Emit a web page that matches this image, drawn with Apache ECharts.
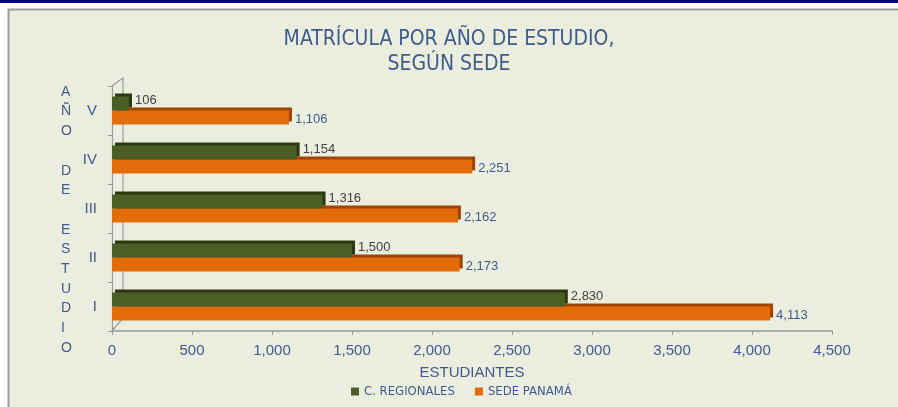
<!DOCTYPE html>
<html>
<head>
<meta charset="utf-8">
<script src="https://cdn.jsdelivr.net/npm/echarts@6/dist/echarts.min.js"></script>
<style>
  html, body { margin: 0; padding: 0; background: #fff; }
  #chart { width: 898px; height: 407px; }
</style>
</head>
<body>
<div id="chart"></div>
<script>
// datos
const years = ['I', 'II', 'III', 'IV', 'V'];
const regionales = [2830, 1500, 1316, 1154, 106];
const sedePanama = [4113, 2173, 2162, 2251, 1106];
const xTicks = [0, 500, 1000, 1500, 2000, 2500, 3000, 3500, 4000, 4500];

const chart = echarts.init(document.getElementById('chart'));

const fmt = v => Number(v).toLocaleString('en-US');
const blueText = '#3f5a8e';
const narrow = '"Liberation Sans Narrow", "DejaVu Sans Condensed", sans-serif';
const sans = '"Liberation Sans", Arial, sans-serif';

const option = {
  backgroundColor: '#fff',
  animation: false,
  graphic: [
    // franja superior y panel
    { type: 'rect', z: -10, shape: { x: 0, y: 0, width: 898, height: 3 }, style: { fill: '#00008b' } },
    { type: 'rect', z: -10, shape: { x: 8.5, y: 9.5, width: 900, height: 400 }, style: { fill: '#ebeedf', stroke: '#9c9c9c', lineWidth: 2 } },
    // pared 3D del eje vertical
    { type: 'polyline', z: 1, shape: { points: [[112, 86], [123, 78], [123, 318], [112, 331]] }, style: { stroke: '#9a9a9a', lineWidth: 1.2, fill: null } },
    // nombre del eje vertical
    {
      type: 'text', left: 61, top: 82,
      style: {
        text: 'A\nÑ\nO\n\nD\nE\n\nE\nS\nT\nU\nD\nI\nO',
        fill: blueText, font: '14px ' + sans, lineHeight: 19.7, align: 'center'
      }
    }
  ],
  title: {
    text: 'MATRÍCULA POR AÑO DE ESTUDIO,\nSEGÚN SEDE',
    left: 'center',
    top: 22,
    textStyle: { color: '#3d5b8c', fontFamily: narrow, fontSize: 21, fontWeight: 'normal', lineHeight: 25 }
  },
  legend: {
    data: ['C. REGIONALES', 'SEDE PANAMÁ'],
    left: 346,
    top: 380,
    itemWidth: 8,
    itemHeight: 8,
    itemGap: 20,
    icon: 'rect',
    textStyle: { color: blueText, fontFamily: narrow, fontSize: 13 }
  },
  grid: { left: 112, right: 66, top: 86, bottom: 76 },
  xAxis: {
    type: 'value',
    min: 0,
    max: 4500,
    interval: 500,
    name: 'ESTUDIANTES',
    nameLocation: 'middle',
    nameGap: 34,
    nameTextStyle: { color: blueText, fontFamily: sans, fontSize: 15 },
    axisLine: { show: true, lineStyle: { color: '#9a9a9a', width: 1.5 } },
    axisTick: { show: true, length: 4, lineStyle: { color: '#9a9a9a' } },
    axisLabel: {
      color: blueText, fontFamily: sans, fontSize: 15, margin: 12,
      customValues: xTicks, formatter: v => fmt(v)
    },
    splitLine: { show: false }
  },
  yAxis: {
    type: 'category',
    data: years,
    axisLine: { show: true, lineStyle: { color: '#9a9a9a', width: 1.2 } },
    axisTick: { show: true, length: 4, lineStyle: { color: '#9a9a9a' } },
    axisLabel: { color: blueText, fontFamily: sans, fontSize: 15, margin: 15 }
  },
  series: [
    {
      name: 'C. REGIONALES',
      type: 'bar',
      data: regionales,
      barWidth: 14,
      barGap: '0%',
      z: 3,
      itemStyle: {
        color: '#4b5e26',
        shadowColor: '#2c3812', shadowBlur: 0, shadowOffsetX: 3, shadowOffsetY: -3
      },
      label: {
        show: true, position: 'right', distance: 6, offset: [0, -3],
        color: '#404040', fontFamily: sans, fontSize: 13,
        formatter: p => fmt(p.value)
      }
    },
    {
      name: 'SEDE PANAMÁ',
      type: 'bar',
      data: sedePanama,
      barWidth: 14,
      barGap: '0%',
      z: 2,
      itemStyle: {
        color: '#e36c0a',
        shadowColor: '#9e4506', shadowBlur: 0, shadowOffsetX: 3, shadowOffsetY: -3
      },
      label: {
        show: true, position: 'right', distance: 6, offset: [0, 2],
        color: blueText, fontFamily: sans, fontSize: 13,
        formatter: p => fmt(p.value)
      }
    }
  ]
};

chart.setOption(option);
</script>
</body>
</html>
